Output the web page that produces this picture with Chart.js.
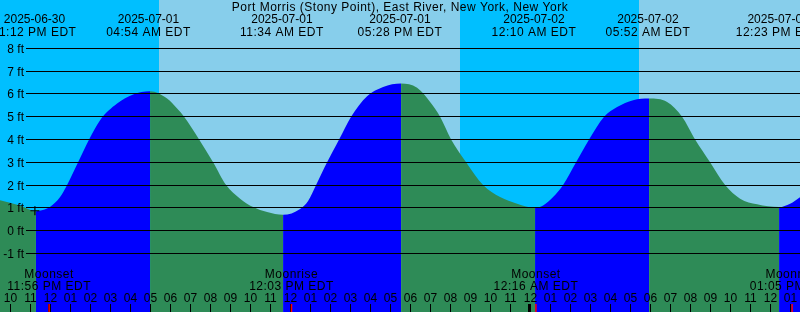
<!DOCTYPE html>
<html>
<head>
<meta charset="utf-8">
<script src="https://cdn.jsdelivr.net/npm/chart.js@4.4.1/dist/chart.umd.min.js"></script>
<style>
  html, body { margin: 0; padding: 0; background: #fff; }
  canvas { display: block; }
</style>
</head>
<body>
<canvas id="tides" width="800" height="312"></canvas>
<script>
// times are hours counted from midnight 2025-07-01 EDT, heights in feet
const curveHours = [-2.58, -1.53, -0.73, -0.38, -0.03, 0.48, 0.83, 1.38, 1.93, 2.48, 3.33, 4.13, 4.98,
  5.83, 6.33, 6.68, 7.43, 8.13, 8.78, 9.48, 10.13, 10.83, 11.63,
  12.48, 12.88, 13.28, 13.83, 14.43, 15.03, 15.83, 16.63, 17.53,
  18.33, 18.98, 19.48, 20.03, 20.78, 21.63, 22.48, 23.33, 24.23,
  24.63, 25.13, 25.63, 26.28, 26.93, 27.68, 28.33, 29.13, 29.93,
  30.83, 31.58, 32.23, 32.98, 33.73, 34.48, 35.33, 36.43,
  36.98, 37.53];
const curveFeet = [1.34, 1.10, 0.85, 0.90, 1.03, 1.47, 2.00, 3.00, 4.00, 4.85, 5.58, 5.98, 6.12,
  5.80, 5.36, 5.00, 4.00, 3.00, 2.00, 1.40, 1.03, 0.81, 0.69,
  0.95, 1.30, 2.00, 3.00, 4.00, 5.00, 5.90, 6.31, 6.46,
  6.27, 5.65, 5.00, 4.00, 3.00, 2.00, 1.47, 1.18, 1.00,
  1.10, 1.47, 2.00, 3.00, 4.00, 5.00, 5.43, 5.73, 5.80,
  5.65, 5.00, 4.00, 3.00, 2.00, 1.40, 1.15, 1.03,
  1.18, 1.50];

const tideHours = [-0.8, 4.9, 11.57, 17.47, 24.17, 29.87, 36.38];
const tideDates = ['2025-06-30', '2025-07-01', '2025-07-01', '2025-07-01', '2025-07-02', '2025-07-02', '2025-07-02'];
const tideClock = ['11:12 PM EDT', '04:54 AM EDT', '11:34 AM EDT', '05:28 PM EDT', '12:10 AM EDT', '05:52 AM EDT', '12:23 PM EDT'];

const moonHours = [-0.07, 12.05, 24.27, 37.08];
const moonNames = ['Moonset', 'Moonrise', 'Moonset', 'Moonrise'];
const moonClock = ['11:56 PM EDT', '12:03 PM EDT', '12:16 AM EDT', '01:05 PM EDT'];

const sunHours = [5.43, 20.48, 29.41]; // sunrise, sunset, sunrise

const heightTicks = [-1, 0, 1, 2, 3, 4, 5, 6, 7, 8];
const firstHour = -2;
const hourLabels = ['10', '11',
  '12', '01', '02', '03', '04', '05', '06', '07', '08', '09', '10', '11',
  '12', '01', '02', '03', '04', '05', '06', '07', '08', '09', '10', '11',
  '12', '01', '02', '03', '04', '05', '06', '07', '08', '09', '10', '11',
  '12', '01'];
const midnightHours = [0, 24];

const markHours = [-0.78];
const markFeet = [0.87];

const TITLE = 'Port Morris (Stony Point), East River, New York, New York';

const NIGHT = '#00BFFF';
const DAY = '#87CEEB';
const RISING = '#0000FF';
const FALLING = '#2E8B57';
const FONT = '12px "Liberation Sans", Arial, sans-serif';
const WIDE = '0.5px'; // the original font sets letters a little looser than Arial

// day / night background
const skyPlugin = {
  id: 'sky',
  beforeDatasetsDraw(chart) {
    const { ctx, chartArea: a, scales: { x } } = chart;
    const edges = [x.min, ...sunHours, x.max];
    ctx.save();
    for (let i = 0; i < edges.length - 1; i++) {
      const x0 = Math.round(x.getPixelForValue(edges[i]));
      const x1 = Math.round(x.getPixelForValue(edges[i + 1]));
      ctx.fillStyle = i % 2 === 0 ? NIGHT : DAY;
      ctx.fillRect(x0, a.top, x1 - x0, a.bottom - a.top);
    }
    ctx.restore();
  }
};

// grid, height labels, hour ticks, moon and tide labels, title
const labelPlugin = {
  id: 'labels',
  afterDatasetsDraw(chart) {
    const { ctx, chartArea: a, scales: { x, y } } = chart;
    ctx.save();
    ctx.font = FONT;
    ctx.fillStyle = '#000';
    ctx.strokeStyle = '#000';
    ctx.lineWidth = 1;

    ctx.textAlign = 'right';
    heightTicks.forEach(v => {
      const py = Math.floor(y.getPixelForValue(v)) + 0.5;
      ctx.beginPath();
      ctx.moveTo(26, py);
      ctx.lineTo(a.right, py);
      ctx.stroke();
      ctx.fillText(v + ' ft', 24, py + 4);
    });

    ctx.textAlign = 'center';
    hourLabels.forEach((lab, i) => {
      const h = firstHour + i;
      const px = Math.floor(x.getPixelForValue(h)) + 0.5;
      const midnight = midnightHours.includes(h);
      ctx.fillText(lab, px, 302);
      ctx.lineWidth = midnight ? 3 : 1;
      ctx.beginPath();
      ctx.moveTo(midnight ? px - 1 : px, 304);
      ctx.lineTo(midnight ? px - 1 : px, a.bottom);
      ctx.stroke();
    });

    tideHours.forEach((h, i) => {
      ctx.fillText(tideDates[i], x.getPixelForValue(h), 23);
    });

    ctx.letterSpacing = WIDE;
    ctx.strokeStyle = '#FF0000';
    ctx.lineWidth = 1.5;
    moonHours.forEach((h, i) => {
      const px = x.getPixelForValue(h);
      ctx.beginPath();
      ctx.moveTo(px, 304);
      ctx.lineTo(px, a.bottom);
      ctx.stroke();
      ctx.fillText(moonNames[i], px, 278);
      ctx.fillText(moonClock[i], px, 290);
    });

    tideHours.forEach((h, i) => {
      ctx.fillText(tideClock[i], x.getPixelForValue(h), 35.5);
    });

    ctx.fillText(TITLE, (a.left + a.right) / 2, 11);
    ctx.restore();
  }
};

const ctx = document.getElementById('tides').getContext('2d');
new Chart(ctx, {
  type: 'line',
  data: {
    datasets: [
      {
        data: markHours.map((h, i) => ({ x: h, y: markFeet[i] })),
        showLine: false,
        fill: false,
        pointStyle: 'cross',
        pointRadius: 4.5,
        borderColor: '#000',
        borderWidth: 1.2,
        backgroundColor: '#000'
      },
      {
        data: curveHours.map((h, i) => ({ x: h, y: curveFeet[i] })),
        fill: 'start',
        borderWidth: 0,
        borderColor: 'rgba(0,0,0,0)',
        backgroundColor: FALLING,
        pointRadius: 0,
        cubicInterpolationMode: 'monotone',
        segment: {
          backgroundColor: c => c.p1.parsed.y > c.p0.parsed.y ? RISING : FALLING
        }
      }
    ]
  },
  options: {
    responsive: false,
    animation: false,
    devicePixelRatio: 1,
    layout: { padding: 0, autoPadding: false },
    scales: {
      x: { type: 'linear', min: -2.525, max: 37.475, display: false },
      y: { min: -3.58, max: 10.13, display: false }
    },
    plugins: {
      legend: { display: false },
      tooltip: { enabled: false }
    }
  },
  plugins: [skyPlugin, labelPlugin]
});
</script>
</body>
</html>
